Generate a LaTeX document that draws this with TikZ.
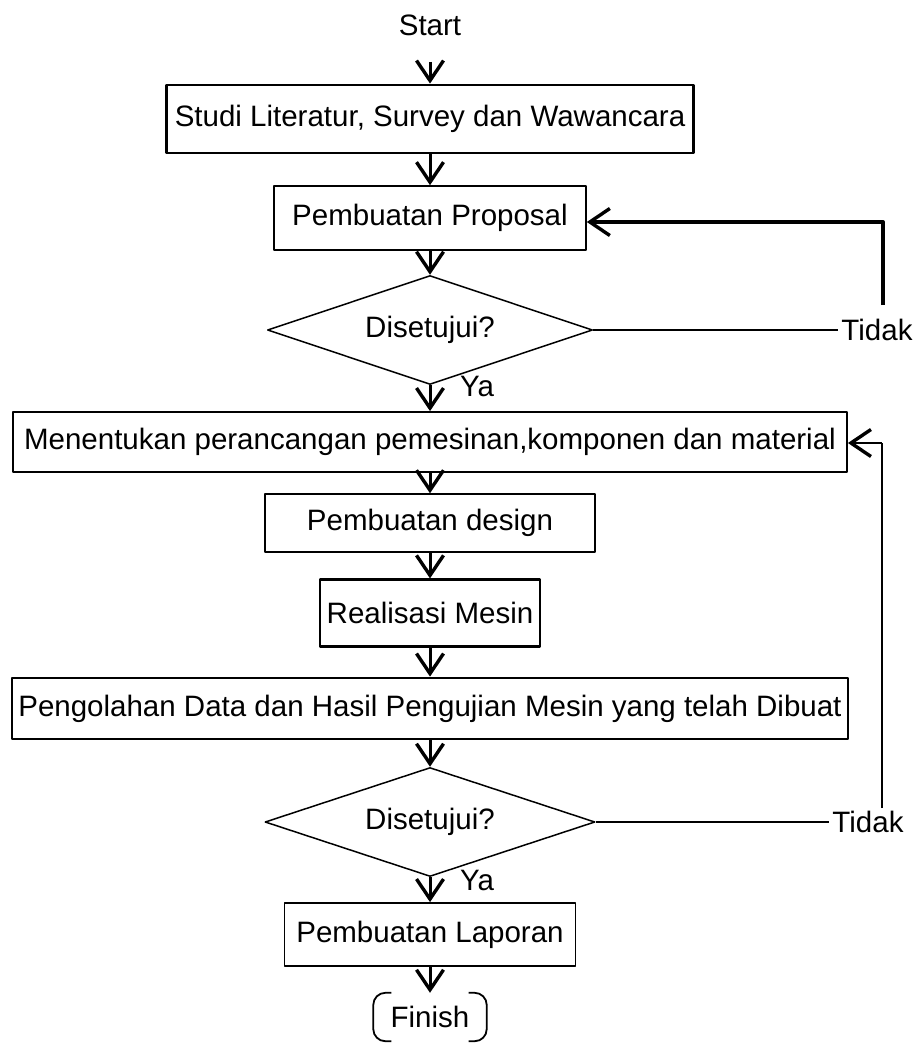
\documentclass[tikz,border=0pt]{standalone}
\usepackage{fontspec}
\setmainfont{Liberation Sans}
\usetikzlibrary{arrows.meta,shapes.geometric}

\begin{document}
\begin{tikzpicture}[x=1pt,y=-1pt,line join=round,
    font=\fontsize{29.5}{34}\selectfont,
    proses/.style={draw,inner sep=0pt},
    keputusan/.style={draw,diamond,aspect=3,inner sep=0pt,minimum height=109pt,line width=1.5pt},
    teks/.style={inner sep=3pt},
    flow/.style={-{Straight Barb[length=20pt,width=27pt,line width=3.4pt]},line width=3pt},
    garis/.style={line width=1.5pt}]
  \useasboundingbox (0,0) rectangle (918,1043);
  \node (start) at (430,25) {Start};
  \node[proses,minimum width=527pt,minimum height=68pt,line width=2.8pt] (studi) at (430,119) {Studi Literatur, Survey dan Wawancara};
  \node[proses,minimum width=312pt,minimum height=64pt,line width=1.6pt] (proposal) at (430,218) {Pembuatan Proposal};
  \node[keputusan,minimum width=325pt] (cek1) at (430,330) {Disetujui?};
  \node[proses,minimum width=834pt,minimum height=60pt,line width=1.8pt] (menentukan) at (430,442) {Menentukan perancangan pemesinan,komponen dan material};
  \node[proses,minimum width=330pt,minimum height=58pt,line width=1.5pt] (design) at (430,523) {Pembuatan design};
  \node[proses,minimum width=220pt,minimum height=67pt,line width=2.2pt] (mesin) at (430,613) {Realisasi Mesin};
  \node[proses,minimum width=836pt,minimum height=61pt,line width=2.8pt] (olah) at (430,708.5) {Pengolahan Data dan Hasil Pengujian Mesin yang telah Dibuat};
  \node[keputusan,minimum width=330pt] (cek2) at (430,822) {Disetujui?};
  \node[proses,minimum width=291pt,minimum height=63pt,line width=1.8pt] (lapor) at (430,934.5) {Pembuatan Laporan};
  \node[inner sep=0pt,minimum width=113pt,minimum height=48pt] (finish) at (430,1017) {Finish};
  \draw[line width=1.8pt,rounded corners=12pt] ([xshift=18pt]finish.north west) -- (finish.north west) -- (finish.south west) -- ([xshift=18pt]finish.south west);
  \draw[line width=1.8pt,rounded corners=12pt] ([xshift=-18pt]finish.north east) -- (finish.north east) -- (finish.south east) -- ([xshift=-18pt]finish.south east);

  \node[teks] (ya1) at (477,386) {Ya};
  \node[teks] (ya2) at (477,880) {Ya};
  \node[teks] (tidak1) at (877,330) {Tidak};
  \node[teks] (tidak2) at (868,822) {Tidak};
  \coordinate (t1) at (883,305);
  \coordinate (t1b) at (883,222);
  \coordinate (t2) at (882,808);
  \coordinate (t2b) at (882,443);

  \draw[flow] ([yshift=-37pt]start.center) -- (studi);
  \draw[flow] (studi) -- (proposal);
  \draw[flow] (proposal) -- (cek1);
  \draw[flow] (cek1) -- (menentukan);
  \draw[flow] (menentukan) -- (design);
  \draw[flow] (design) -- (mesin);
  \draw[flow] (mesin) -- (olah);
  \draw[flow] (olah) -- (cek2);
  \draw[flow] (cek2) -- (lapor);
  \draw[flow] (lapor) -- (finish.north);

  \draw[garis] (cek1) -- (tidak1);
  \draw[flow,line width=4pt] (t1) -- (t1b) -- (t1b -| proposal.east);
  \draw[garis] (cek2) -- (tidak2);
  \draw[garis] (t2) -- (t2b);
  \draw[flow,line width=2.5pt] (t2b) -- (t2b -| menentukan.east);
\end{tikzpicture}
\end{document}
